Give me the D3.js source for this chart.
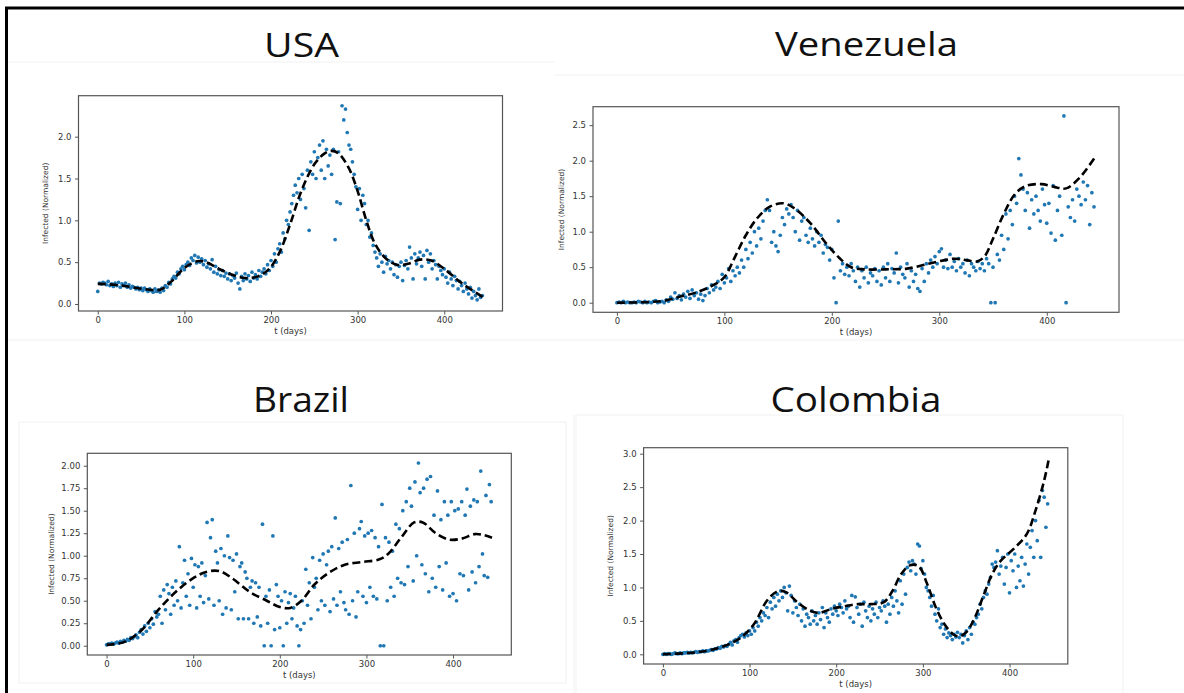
<!DOCTYPE html>
<html>
<head>
<meta charset="utf-8">
<script src="https://cdn.jsdelivr.net/npm/d3@7"></script>
<style>
  body { margin: 0; background: #ffffff; }
  svg { display: block; }
</style>
</head>
<body>
<div id="chart"></div>
<script>
//*************************0. Data

// one scatter value every sampleStep days, starting at day 0
const sampleStep = 2

const xTicks = [0, 100, 200, 300, 400]
const usaYTicks = [0, 0.5, 1, 1.5, 2]
const venezuelaYTicks = [0, 0.5, 1, 1.5, 2, 2.5]
const brazilYTicks = [0, 0.25, 0.5, 0.75, 1, 1.25, 1.5, 1.75, 2]
const colombiaYTicks = [0, 0.5, 1, 1.5, 2, 2.5, 3]

const countries = ["USA", "Venezuela", "Brazil", "Colombia"]

//----------------------USA
const usaInfected = [
  0.15,0.25,0.24,0.26,0.25,0.23,0.27,0.22,0.24,0.21,
  0.25,0.22,0.26,0.20,0.24,0.22,0.25,0.20,0.23,0.19,
  0.21,0.20,0.18,0.20,0.17,0.19,0.16,0.19,0.17,0.15,
  0.18,0.16,0.14,0.18,0.15,0.17,0.14,0.19,0.16,0.22,
  0.20,0.26,0.24,0.30,0.33,0.31,0.38,0.36,0.42,0.45,
  0.41,0.47,0.50,0.46,0.55,0.52,0.58,0.49,0.56,0.50,
  0.54,0.47,0.52,0.44,0.48,0.42,0.53,0.38,0.45,0.36,
  0.41,0.34,0.40,0.33,0.37,0.30,0.36,0.28,0.34,0.31,
  0.37,0.25,0.18,0.33,0.28,0.36,0.30,0.34,0.27,0.38,
  0.31,0.35,0.30,0.40,0.33,0.38,0.42,0.36,0.47,0.40,
  0.52,0.45,0.60,0.50,0.66,0.72,0.62,0.85,0.78,1.00,
  0.95,1.10,1.20,1.30,1.42,1.33,1.50,1.25,1.55,1.38,
  1.15,1.60,0.88,1.70,1.55,1.82,1.50,1.75,1.90,1.60,
  1.95,1.50,1.85,1.65,1.78,1.55,1.85,0.77,1.22,1.82,
  1.20,2.37,2.20,2.33,2.05,1.90,1.85,1.70,1.55,1.40,
  1.13,1.38,1.00,1.30,1.20,0.95,1.00,0.80,0.85,0.70,
  0.62,0.55,0.45,0.60,0.50,0.38,0.57,0.48,0.52,0.42,
  0.50,0.35,0.47,0.32,0.45,0.50,0.28,0.46,0.52,0.42,
  0.68,0.55,0.30,0.60,0.48,0.55,0.62,0.45,0.58,0.30,
  0.64,0.50,0.60,0.42,0.52,0.47,0.30,0.45,0.40,0.35,
  0.42,0.32,0.25,0.38,0.30,0.22,0.33,0.28,0.18,0.27,
  0.22,0.15,0.25,0.18,0.12,0.20,0.07,0.15,0.10,0.05,
  0.18,0.08,0.10
]
const usaFitDays = [0,20,40,60,72,85,100,115,125,140,155,170,185,198,210,222,235,250,262,270,278,290,300,310,320,332,345,358,372,385,400,420,445]
const usaFit = [0.24,0.23,0.20,0.17,0.17,0.27,0.43,0.51,0.50,0.42,0.35,0.31,0.33,0.42,0.62,0.95,1.35,1.67,1.80,1.83,1.80,1.62,1.35,1.00,0.72,0.55,0.47,0.48,0.53,0.52,0.42,0.25,0.08]

//----------------------Venezuela
const venezuelaInfected = [
  0.00,0.01,0.00,0.02,0.00,0.01,0.00,0.00,0.01,0.00,0.02,0.01,0.00,0.02,0.00,0.01,0.00,0.02,0.03,0.00,0.01,0.02,0.00,
  0.04,0.02,0.08,0.05,0.14,0.06,0.10,0.04,0.12,0.08,0.16,0.06,0.18,0.10,0.14,0.05,0.12,0.03,
  0.10,0.20,0.14,0.25,0.18,0.22,0.30,0.20,0.40,0.28,
  0.35,0.48,0.30,0.45,0.38,0.50,0.42,0.60,0.50,0.75,
  0.62,0.85,0.70,1.00,0.80,1.05,0.90,1.15,1.30,1.45,
  1.30,0.85,1.00,0.80,0.72,0.95,1.20,1.10,1.32,1.25,
  1.38,1.20,1.00,1.30,0.88,1.15,1.20,0.95,0.85,1.05,
  0.90,0.80,1.00,0.85,0.95,0.70,0.82,0.78,0.60,0.75,
  0.35,0.00,1.15,0.45,0.55,0.40,0.50,0.38,0.55,0.45,
  0.30,0.50,0.22,0.45,0.35,0.50,0.28,0.42,0.38,0.48,
  0.30,0.45,0.25,0.50,0.35,0.55,0.30,0.48,0.42,0.70,
  0.28,0.50,0.40,0.35,0.55,0.22,0.45,0.30,0.40,0.20,
  0.16,0.48,0.30,0.55,0.42,0.60,0.50,0.65,0.55,0.72,
  0.76,0.50,0.60,0.48,0.68,0.50,0.58,0.45,0.62,0.50,
  0.55,0.42,0.60,0.38,0.55,0.50,0.45,0.58,0.48,0.55,
  0.45,0.62,0.55,0.00,0.50,0.00,0.68,0.60,0.95,0.75,
  1.25,0.90,1.30,1.10,1.50,1.40,2.03,1.80,1.60,1.30,
  1.55,1.05,1.45,1.25,1.50,1.30,1.15,1.60,1.38,1.12,
  1.40,0.98,1.65,0.88,1.30,1.50,0.95,2.63,0.00,1.35,
  1.20,1.45,1.15,1.60,1.50,1.38,1.70,1.45,1.65,1.10,1.55,1.35
]
const venezuelaFitDays = [0,30,45,60,75,90,100,110,120,130,142,155,165,180,195,207,218,230,250,270,290,305,315,325,335,342,350,360,370,380,395,410,418,430,445]
const venezuelaFit = [0.00,0.01,0.03,0.09,0.15,0.25,0.36,0.65,0.95,1.18,1.35,1.40,1.33,1.12,0.83,0.63,0.50,0.47,0.47,0.48,0.55,0.60,0.62,0.60,0.58,0.65,0.90,1.25,1.52,1.64,1.67,1.62,1.61,1.75,2.05]

//----------------------Brazil
const brazilInfected = [
  0.01,0.02,0.02,0.03,0.02,0.03,0.04,0.03,0.05,0.04,0.06,0.05,0.07,0.06,0.09,0.08,
  0.10,0.12,0.09,0.15,0.18,0.13,0.22,0.16,0.25,0.20,0.30,0.24,0.38,0.32,0.35,
  0.55,0.25,0.62,0.40,0.68,0.58,0.35,0.65,0.45,0.72,0.50,1.10,0.42,0.70,0.95,0.55,0.80,0.45,0.97,0.65,
  0.90,0.42,0.88,0.55,0.92,0.48,0.78,1.37,0.52,1.20,1.40,0.45,1.05,0.92,0.50,1.08,0.35,1.00,0.42,1.22,
  0.98,0.40,0.95,0.60,1.02,0.30,0.88,0.92,0.30,0.82,0.75,0.30,0.65,0.72,0.25,0.70,0.32,0.65,0.22,1.35,
  0.00,0.55,0.25,0.62,0.00,1.22,0.18,0.68,0.55,0.20,0.50,0.00,0.60,0.25,0.48,0.58,0.30,0.42,0.55,0.22,
  0.00,0.18,0.50,0.25,0.85,0.45,0.70,0.30,0.98,0.65,0.75,0.40,0.95,0.50,1.02,0.45,0.90,1.05,0.38,1.10,
  0.52,1.42,0.45,1.08,0.60,1.15,0.48,0.40,1.18,0.35,1.78,0.50,1.25,0.32,0.60,1.30,1.38,0.55,1.22,0.48,
  1.25,0.65,1.28,0.55,1.20,0.52,1.10,0.00,1.57,0.00,1.20,0.50,1.15,0.65,1.05,0.55,1.35,0.75,1.30,0.70,
  1.50,0.68,1.60,0.88,1.75,1.55,0.72,1.82,1.00,2.03,1.70,0.90,1.75,0.80,1.85,0.60,1.88,0.75,1.45,0.65,
  1.72,0.88,1.40,0.62,1.60,0.92,1.45,0.55,1.60,0.58,1.50,0.50,1.52,0.80,1.60,0.78,1.45,1.74,0.62,1.55,
  0.82,1.62,0.70,1.60,0.88,1.94,1.02,0.78,1.67,0.76,1.79,1.60
]
const brazilFitDays = [0,20,40,60,80,100,115,130,145,165,185,200,212,225,240,255,275,295,315,325,340,355,365,380,395,410,425,435,445]
const brazilFit = [0.01,0.04,0.17,0.40,0.60,0.75,0.82,0.83,0.75,0.60,0.50,0.43,0.42,0.50,0.68,0.80,0.90,0.93,0.96,1.02,1.20,1.37,1.37,1.25,1.18,1.19,1.24,1.23,1.20]

//----------------------Colombia
const colombiaInfected = [
  0.00,0.01,0.00,0.01,0.01,0.00,0.01,0.02,0.01,0.01,0.02,0.01,0.02,0.02,0.03,0.02,0.03,0.02,0.03,0.04,0.03,0.04,0.04,0.05,0.04,0.05,0.05,0.06,0.07,0.06,0.08,
  0.08,0.10,0.09,0.12,0.11,0.13,0.12,0.15,0.18,0.14,0.20,0.22,0.18,0.25,0.28,0.30,0.26,0.32,0.28,0.35,
  0.30,0.40,0.35,0.48,0.42,0.55,0.50,0.62,0.58,0.70,0.55,0.78,0.68,0.85,0.72,0.90,0.80,0.95,0.85,1.00,
  0.92,0.65,1.02,0.88,0.62,0.80,0.70,0.58,0.75,0.50,0.68,0.42,0.60,0.55,0.45,0.65,0.50,0.58,0.45,0.62,
  0.52,0.70,0.40,0.62,0.55,0.48,0.68,0.60,0.72,0.65,0.58,0.75,0.70,0.62,0.80,0.68,0.72,0.55,0.88,0.48,
  0.86,0.70,0.60,0.75,0.42,0.78,0.65,0.55,0.72,0.50,0.68,0.60,0.78,0.55,0.70,0.65,0.80,0.72,0.48,0.75,
  0.60,0.85,0.72,0.95,0.80,0.62,1.10,0.75,1.20,0.90,1.30,1.38,1.25,1.40,1.35,1.20,1.65,1.62,1.28,1.40,
  1.20,1.00,0.95,0.85,0.72,0.88,0.60,0.50,0.68,0.40,0.45,0.30,0.38,0.25,0.32,0.28,0.22,0.30,0.26,0.33,
  0.25,0.30,0.17,0.28,0.35,0.22,0.40,0.30,0.48,0.45,0.55,0.60,0.75,0.68,0.85,0.95,0.90,1.05,1.15,1.35,
  1.30,1.38,1.55,1.20,1.32,1.45,1.05,1.30,1.50,0.92,1.40,1.25,1.50,1.00,1.32,1.10,1.45,1.02,1.35,1.65,
  1.20,1.60,1.85,1.45,2.00,1.70,2.30,1.45,2.45,2.35,1.90,2.25
]
const colombiaFitDays = [0,30,50,70,90,105,120,132,142,155,170,180,195,210,225,240,255,265,275,285,295,305,315,325,335,342,350,360,370,380,390,405,420,430,440,445]
const colombiaFit = [0.00,0.02,0.05,0.12,0.25,0.45,0.80,0.94,0.93,0.78,0.65,0.62,0.68,0.72,0.75,0.75,0.78,0.95,1.20,1.33,1.32,1.05,0.70,0.45,0.30,0.27,0.33,0.55,0.88,1.20,1.40,1.58,1.80,2.15,2.60,2.90]

function draw() {

//*************************1. Dimensions

    const dimensions = {
        width: 1184,
        height: 693
    }

    // x limits are the same for every panel (matplotlib 5% padding round 0..445)
    const xDomain = [-22.25, 467.25]

    const panels = [
        {
            title: countries[0], infected: usaInfected, fitDays: usaFitDays, fit: usaFit,
            yTicks: usaYTicks, yFormat: ".1f", yDomain: [-0.084, 2.49],
            frame: {x0: 78.5, x1: 502.5, y0: 95.7, y1: 311},
            titleX: 301.5, titleY: 56.7, titleWidth: 75, titleSize: 33, yLabelX: 46
        },
        {
            title: countries[1], infected: venezuelaInfected, fitDays: venezuelaFitDays, fit: venezuelaFit,
            yTicks: venezuelaYTicks, yFormat: ".1f", yDomain: [-0.135, 2.76],
            frame: {x0: 593, x1: 1119, y0: 106.7, y1: 312.3},
            titleX: 866.5, titleY: 56, titleWidth: 183, titleSize: 33, yLabelX: 562
        },
        {
            title: countries[2], infected: brazilInfected, fitDays: brazilFitDays, fit: brazilFit,
            yTicks: brazilYTicks, yFormat: ".2f", yDomain: [-0.103, 2.138],
            frame: {x0: 87.3, x1: 511.3, y0: 453.3, y1: 655},
            titleX: 301, titleY: 411.7, titleWidth: 96, titleSize: 35, yLabelX: 52
        },
        {
            title: countries[3], infected: colombiaInfected, fitDays: colombiaFitDays, fit: colombiaFit,
            yTicks: colombiaYTicks, yFormat: ".1f", yDomain: [-0.145, 3.09],
            frame: {x0: 643.6, x1: 1067.8, y0: 447.7, y1: 664},
            titleX: 856, titleY: 411.7, titleWidth: 171, titleSize: 35, yLabelX: 611
        }
    ]

//*************************2. Wrapper

    const wrapper = d3.select("#chart")
        .append("svg")
        .attr("width", dimensions.width)
        .attr("height", dimensions.height)

    wrapper.append("rect")
        .attr("width", dimensions.width)
        .attr("height", dimensions.height)
        .attr("fill", "#ffffff")

//----------------------faint edges of the pasted screenshots
    const faint = wrapper.append("g")
        .attr("fill", "none")
        .attr("stroke", "#f1f1f1")
        .attr("stroke-width", 1)

    faint.append("path").attr("d", "M8,62H555 M555,75H1184 M8,340H1184")
    faint.append("rect").attr("x", 19).attr("y", 422).attr("width", 547).attr("height", 261)
    faint.append("path").attr("d", "M574,415V693 M576,415H1123V693 M576,415V693")

//*************************3. Panels

    panels.forEach(p => drawPanel(wrapper, p, xDomain))

//----------------------outer border (top and left only)
    wrapper.append("path")
        .attr("d", `M6.5,${dimensions.height} V8 H${dimensions.width}`)
        .attr("fill", "none")
        .attr("stroke", "#000000")
        .attr("stroke-width", 3)
}

function drawPanel(wrapper, p, xDomain) {

    const f = p.frame
    const bounds = wrapper.append("g")

//----------------------scales
    const xScale = d3.scaleLinear()
        .domain(xDomain)
        .range([f.x0, f.x1])

    const yScale = d3.scaleLinear()
        .domain(p.yDomain)
        .range([f.y1, f.y0])

//----------------------title
    bounds.append("text")
        .text(p.title)
        .attr("x", p.titleX)
        .attr("y", p.titleY)
        .attr("text-anchor", "middle")
        .attr("textLength", p.titleWidth)
        .attr("lengthAdjust", "spacingAndGlyphs")
        .style("font-family", "'Open Sans', 'Noto Sans', sans-serif")
        .style("font-size", p.titleSize + "px")
        .style("fill", "#111111")

//----------------------scatter
    bounds.append("g")
        .selectAll("circle")
        .data(p.infected)
        .join("circle")
        .attr("cx", (d, i) => xScale(i * sampleStep))
        .attr("cy", d => yScale(d))
        .attr("r", 1.85)
        .attr("fill", "#1f77b4")

//----------------------fitted dashed curve
    const lineGenerator = d3.line()
        .x(d => xScale(d[0]))
        .y(d => yScale(d[1]))
        .curve(d3.curveCatmullRom.alpha(0.5))

    bounds.append("path")
        .attr("d", lineGenerator(d3.zip(p.fitDays, p.fit)))
        .attr("fill", "none")
        .attr("stroke", "#000000")
        .attr("stroke-width", 2.6)
        .attr("stroke-dasharray", "8,4")

//----------------------frame
    bounds.append("rect")
        .attr("x", f.x0)
        .attr("y", f.y0)
        .attr("width", f.x1 - f.x0)
        .attr("height", f.y1 - f.y0)
        .attr("fill", "none")
        .attr("stroke", "#555555")
        .attr("stroke-width", 1.2)

//----------------------axes
    const xAxisGenerator = d3.axisBottom(xScale)
        .tickValues(xTicks)
        .tickFormat(d3.format("d"))
        .tickSize(3.5)
        .tickPadding(2)

    const yAxisGenerator = d3.axisLeft(yScale)
        .tickValues(p.yTicks)
        .tickFormat(d3.format(p.yFormat))
        .tickSize(3.5)
        .tickPadding(3.5)

    const xAxis = bounds.append("g")
        .attr("transform", `translate(0,${f.y1})`)
        .call(xAxisGenerator)

    const yAxis = bounds.append("g")
        .attr("transform", `translate(${f.x0},0)`)
        .call(yAxisGenerator)

    ;[xAxis, yAxis].forEach(axis => {
        axis.select(".domain").remove()
        axis.selectAll("line").attr("stroke", "#555555")
        axis.selectAll("text")
            .style("font-family", "'DejaVu Sans', sans-serif")
            .style("font-size", "8.5px")
            .style("fill", "#333333")
    })

//----------------------axis labels
    bounds.append("text")
        .text("t (days)")
        .attr("x", (f.x0 + f.x1) / 2)
        .attr("y", f.y1 + 23)
        .attr("text-anchor", "middle")
        .style("font-family", "'DejaVu Sans', sans-serif")
        .style("font-size", "8.5px")
        .style("fill", "#333333")

    bounds.append("text")
        .text("Infected (Normalized)")
        .attr("transform", `translate(${p.yLabelX},${(f.y0 + f.y1) / 2}) rotate(-90)`)
        .attr("text-anchor", "middle")
        .attr("dominant-baseline", "middle")
        .style("font-family", "'DejaVu Sans', sans-serif")
        .style("font-size", "7.5px")
        .style("fill", "#333333")
}

draw()
</script>
</body>
</html>
